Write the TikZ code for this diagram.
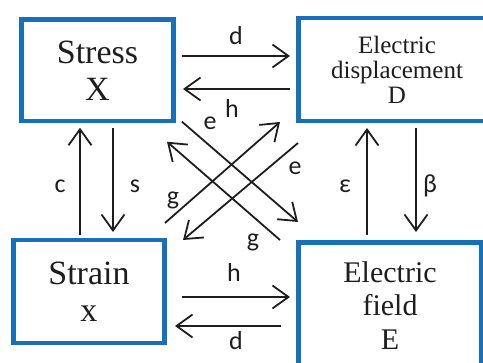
\documentclass[tikz,border=0pt]{standalone}
\usepackage{fontspec}
\setmainfont{Liberation Serif}
\newfontfamily\labfont{Carlito}
\usetikzlibrary{arrows.meta,calc}
\definecolor{boxblue}{RGB}{24,112,186}
\definecolor{ink}{RGB}{30,30,30}
\begin{document}
\begin{tikzpicture}[x=1pt,y=-1pt,
  box/.style={draw=boxblue,line width=4.5pt,fill=white,rectangle,inner sep=0pt,outer sep=0pt,align=center,text=ink},
  arr/.style={draw=ink,line width=1.8pt,-{Straight Barb[length=16pt,width=23pt,line width=1.8pt]}},
  lab/.style={font=\labfont\fontsize{26}{26}\selectfont,anchor=base,inner sep=0pt,text=ink}]
\useasboundingbox (0,0) rectangle (483,363);
\clip (0,0) rectangle (483,363);
% boxes
\node[box,minimum width=152pt,minimum height=101.5pt,font=\fontsize{34}{37}\selectfont] (stress) at (97.5,70.25) {Stress\\X};
\node[box,minimum width=197pt,minimum height=103pt,font=\fontsize{25}{25}\selectfont] (ed) at (397,69.5) {Electric\\displacement\\D};
\node[box,minimum width=151pt,minimum height=103pt,font=\fontsize{34}{37}\selectfont] (strain) at (89,291.5) {Strain\\x};
\node[box,minimum width=183pt,minimum height=126pt,font=\fontsize{30}{33.5}\selectfont] (ef) at (390,305.5) {Electric\\field\\E};
% horizontal arrows
\draw[arr] ($(stress.east)+(8.5,-14.25)$) -- ($(ed.west)+(-8.5,-13.5)$);
\draw[arr] ($(ed.west)+(-8.5,19.5)$) -- ($(stress.east)+(9.5,18.75)$);
\draw[arr] ($(strain.east)+(17.5,5.5)$) -- ($(ef.west)+(-8.5,-8.5)$);
\draw[arr] ($(ef.west)+(-17.5,20.5)$) -- ($(strain.east)+(10.5,34.5)$);
% vertical arrows
\draw[arr] ($(strain.north)+(-9,-5)$) -- ($(stress.south)+(-17.5,6.75)$);
\draw[arr] ($(stress.south)+(15.5,6.75)$) -- ($(strain.north)+(24,-8)$);
\draw[arr] ($(ef.north)+(-23,-7.5)$) -- ($(ed.south)+(-30,7)$);
\draw[arr] ($(ed.south)+(19,7)$) -- ($(ef.north)+(26,-10.5)$);
% diagonal arrows
\draw[arr] ($(stress.south east)+(8.5,0.75)$) -- ($(ef.north west)+(-0.5,-20.5)$);
\draw[arr] ($(strain.north east)+(0.5,-17)$) -- ($(ed.south west)+(-18.5,1)$);
\draw[arr] ($(ef.north west)+(-18.5,-2.5)$) -- ($(stress.south east)+(-6.5,20.75)$);
\draw[arr] ($(ed.south west)+(-0.5,22)$) -- ($(strain.north east)+(18.5,0)$);
% labels
\node[lab] (ld1) at (236,45) {d};
\node[lab] (lh1) at (232,118) {h};
\node[lab] (le1) at (210,130) {e};
\node[lab] (le2) at (295,175) {e};
\node[lab] (lg1) at (173,205) {g};
\node[lab] (lg2) at (253,247) {g};
\node[lab] (lc) at (60,193) {c};
\node[lab] (ls) at (135,193) {s};
\node[lab] (leps) at (345,193) {ε};
\node[lab] (lbeta) at (430,193) {β};
\node[lab] (lh2) at (234,282) {h};
\node[lab] (ld2) at (236,350) {d};
\end{tikzpicture}
\end{document}
